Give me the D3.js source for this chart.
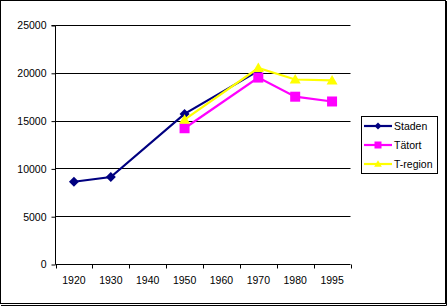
<!DOCTYPE html>
<html>
<head>
<meta charset="utf-8">
<script src="https://cdn.jsdelivr.net/npm/d3@7"></script>
<style>
  body { margin: 0; background: #fff; }
  svg { display: block; font-family: "Liberation Sans", Arial, sans-serif; }
</style>
</head>
<body>
<div id="chart"></div>
<script>
// Categories on the x axis
const years = ["1920", "1930", "1940", "1950", "1960", "1970", "1980", "1995"];

// Series values, null where there is no data
const staden  = [8600, 9100, null, 15700, null, 20200, null, null];
const tatort  = [null, null, null, 14200, null, 19500, 17500, 17000];
const tregion = [null, null, null, 15100, null, 20500, 19300, 19200];

const yTicks = [0, 5000, 10000, 15000, 20000, 25000];

const series = [
    { name: "Staden", values: staden, color: "#000080", marker: "diamond" },
    { name: "Tätort", values: tatort, color: "#FF00FF", marker: "square" },
    { name: "T-region", values: tregion, color: "#FFFF00", marker: "triangle" }
];

const width = 448, height = 306;
const svg = d3.select("#chart").append("svg")
    .attr("width", width)
    .attr("height", height);

// chart area border
svg.append("rect")
    .attr("x", 0.5).attr("y", 0.5)
    .attr("width", 445).attr("height", 303)
    .attr("fill", "#fff").attr("stroke", "#000");
svg.append("path")
    .attr("d", "M446.5,1V305.5H1")
    .attr("fill", "none").attr("stroke", "#000");

const plot = { left: 55.5, right: 350.5, top: 25, bottom: 264 };

const x = d3.scaleBand().domain(years).range([plot.left, plot.right]);
const y = d3.scaleLinear().domain([0, 25000]).range([plot.bottom, plot.top]);

// gridlines
svg.append("g")
    .selectAll("line")
    .data(yTicks.slice(1))
    .enter().append("line")
    .attr("x1", plot.left).attr("x2", plot.right)
    .attr("y1", d => Math.round(y(d)) + 0.5)
    .attr("y2", d => Math.round(y(d)) + 0.5)
    .attr("stroke", "#000");

// y axis
const yAxis = svg.append("g")
    .attr("transform", `translate(${plot.left},0.5)`)
    .call(d3.axisLeft(y).tickValues(yTicks).tickSize(4).tickPadding(5).tickFormat(d3.format("d")));
yAxis.select(".domain").attr("d", `M-4,${y(25000)}H0V${y(0)}`);
yAxis.selectAll("text").attr("font-size", "10.5px").attr("fill", "#000").attr("font-family", null);

// x axis
const xAxis = svg.append("g")
    .attr("transform", `translate(0,${plot.bottom + 0.5})`)
    .call(d3.axisBottom(x).tickSize(0).tickPadding(12));
xAxis.select(".domain").attr("d", `M${plot.left},0H${plot.right}`);
xAxis.selectAll("text").attr("font-size", "10.5px").attr("fill", "#000").attr("font-family", null);
xAxis.append("g")
    .selectAll("line")
    .data(years.concat(["end"]))
    .enter().append("line")
    .attr("x1", (d, i) => Math.round(plot.left + i * x.bandwidth()) + 0.5)
    .attr("x2", (d, i) => Math.round(plot.left + i * x.bandwidth()) + 0.5)
    .attr("y1", 0).attr("y2", 4)
    .attr("stroke", "#000");

// markers
function markerPath(type) {
    if (type === "diamond") return "M0,-5L5,0L0,5L-5,0Z";
    if (type === "square") return "M-5,-5H5V5H-5Z";
    return "M0,-5.5L5.5,4L-5.5,4Z";
}

const cx = d => x(d) + x.bandwidth() / 2;

// lines connect across empty cells
const line = d3.line()
    .x(d => cx(d.year))
    .y(d => y(d.value));

series.forEach(s => {
    const pts = years.map((yr, i) => ({ year: yr, value: s.values[i] }))
        .filter(d => d.value !== null);

    svg.append("path")
        .datum(pts)
        .attr("d", line)
        .attr("fill", "none")
        .attr("stroke", s.color)
        .attr("stroke-width", 2.2);

    svg.append("g")
        .selectAll("path")
        .data(pts)
        .enter().append("path")
        .attr("transform", d => `translate(${cx(d.year)},${y(d.value)})`)
        .attr("d", markerPath(s.marker))
        .attr("fill", s.color);
});

// legend
const legend = svg.append("g");
legend.append("rect")
    .attr("x", 361.5).attr("y", 116.5)
    .attr("width", 76).attr("height", 57)
    .attr("fill", "#fff").attr("stroke", "#000");

series.forEach((s, i) => {
    const ly = 126 + i * 19;
    legend.append("line")
        .attr("x1", 364).attr("x2", 392)
        .attr("y1", ly).attr("y2", ly)
        .attr("stroke", s.color).attr("stroke-width", 2.2);
    legend.append("path")
        .attr("transform", `translate(378,${ly}) scale(0.7)`)
        .attr("d", markerPath(s.marker))
        .attr("fill", s.color);
    legend.append("text")
        .attr("x", 394).attr("y", ly + 4)
        .attr("font-size", "10.5px")
        .text(s.name);
});
</script>
</body>
</html>
